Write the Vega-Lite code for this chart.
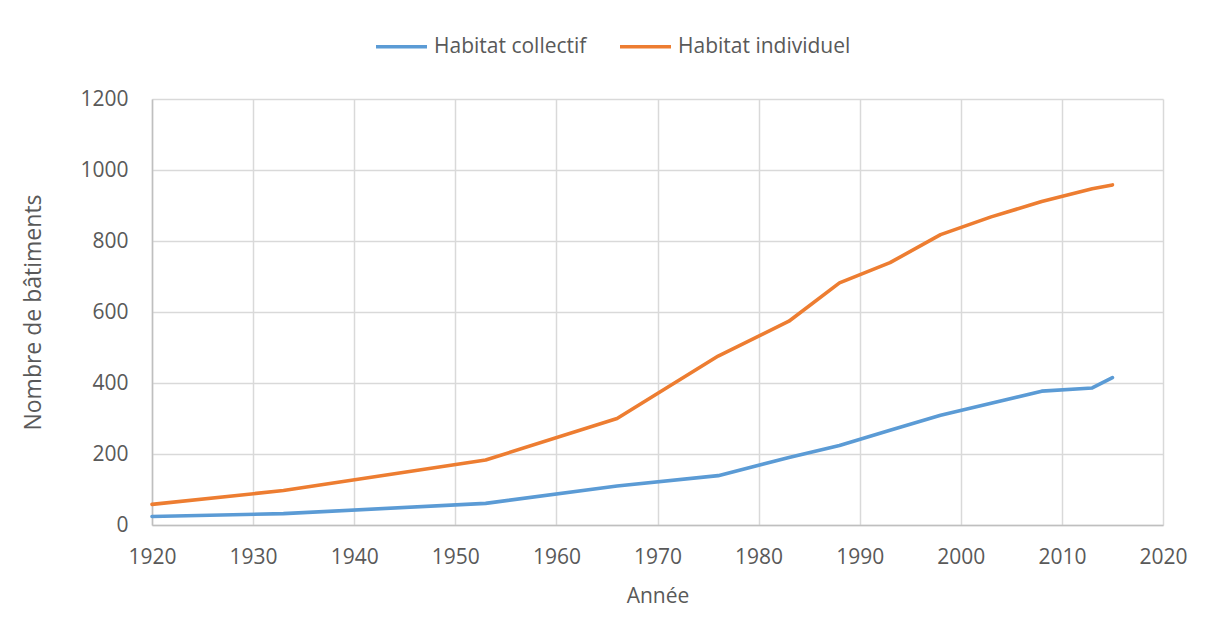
{
  "$schema": "https://vega.github.io/schema/vega-lite/v6.json",
  "autosize": "none",
  "width": 1011,
  "height": 426,
  "padding": {"left": 152, "top": 99, "right": 43, "bottom": 113},
  "background": "white",
  "data": {
    "values": [
      {"annee": 1920, "type": "Habitat collectif", "n": 24},
      {"annee": 1933, "type": "Habitat collectif", "n": 32},
      {"annee": 1953, "type": "Habitat collectif", "n": 61},
      {"annee": 1966, "type": "Habitat collectif", "n": 110},
      {"annee": 1976, "type": "Habitat collectif", "n": 139},
      {"annee": 1983, "type": "Habitat collectif", "n": 190},
      {"annee": 1988, "type": "Habitat collectif", "n": 224},
      {"annee": 1993, "type": "Habitat collectif", "n": 267},
      {"annee": 1998, "type": "Habitat collectif", "n": 309},
      {"annee": 2003, "type": "Habitat collectif", "n": 343},
      {"annee": 2008, "type": "Habitat collectif", "n": 377},
      {"annee": 2013, "type": "Habitat collectif", "n": 386},
      {"annee": 2015, "type": "Habitat collectif", "n": 415},
      {"annee": 1920, "type": "Habitat individuel", "n": 58},
      {"annee": 1933, "type": "Habitat individuel", "n": 97},
      {"annee": 1953, "type": "Habitat individuel", "n": 183},
      {"annee": 1966, "type": "Habitat individuel", "n": 300},
      {"annee": 1976, "type": "Habitat individuel", "n": 476},
      {"annee": 1983, "type": "Habitat individuel", "n": 574},
      {"annee": 1988, "type": "Habitat individuel", "n": 682},
      {"annee": 1993, "type": "Habitat individuel", "n": 739},
      {"annee": 1998, "type": "Habitat individuel", "n": 818},
      {"annee": 2003, "type": "Habitat individuel", "n": 868},
      {"annee": 2008, "type": "Habitat individuel", "n": 911},
      {"annee": 2013, "type": "Habitat individuel", "n": 947},
      {"annee": 2015, "type": "Habitat individuel", "n": 958}
    ]
  },
  "mark": {"type": "line", "strokeWidth": 3.6, "strokeCap": "round", "strokeJoin": "round"},
  "encoding": {
    "x": {
      "field": "annee", "type": "quantitative", "title": "Année",
      "scale": {"domain": [1920, 2020], "nice": false, "zero": false},
      "axis": {"values": [1920, 1930, 1940, 1950, 1960, 1970, 1980, 1990, 2000, 2010, 2020], "format": "d", "labelFlush": false, "labelPadding": 21, "titlePadding": 18, "titleFontSize": 21}
    },
    "y": {
      "field": "n", "type": "quantitative", "title": "Nombre de bâtiments",
      "scale": {"domain": [0, 1200], "nice": false},
      "axis": {"values": [0, 200, 400, 600, 800, 1000, 1200], "format": "d", "labelFlush": false, "labelPadding": 24, "titlePadding": 34, "titleFontSize": 23}
    },
    "color": {
      "field": "type", "type": "nominal",
      "scale": {"domain": ["Habitat collectif", "Habitat individuel"], "range": ["#5B9BD5", "#ED7D31"]},
      "legend": {
        "title": null, "orient": "none", "direction": "horizontal",
        "legendX": 222, "legendY": -80,
        "symbolType": "stroke", "symbolSize": 2601, "symbolStrokeWidth": 3.6,
        "labelFontSize": 21, "labelFont": "Open Sans", "labelColor": "#595959", "labelLimit": 400,
        "labelOffset": 5, "columnPadding": 25
      }
    }
  },
  "config": {
    "view": {"stroke": null},
    "axis": {
      "labelFont": "Open Sans", "labelFontSize": 21, "labelColor": "#595959",
      "titleFont": "Open Sans", "titleColor": "#595959", "titleFontWeight": "normal",
      "gridColor": "#d9d9d9", "gridWidth": 1.5, "domainColor": "#bfbfbf", "domainWidth": 1.5, "ticks": false
    },
    "axisX": {"grid": true},
    "axisY": {"grid": true}
  }
}
